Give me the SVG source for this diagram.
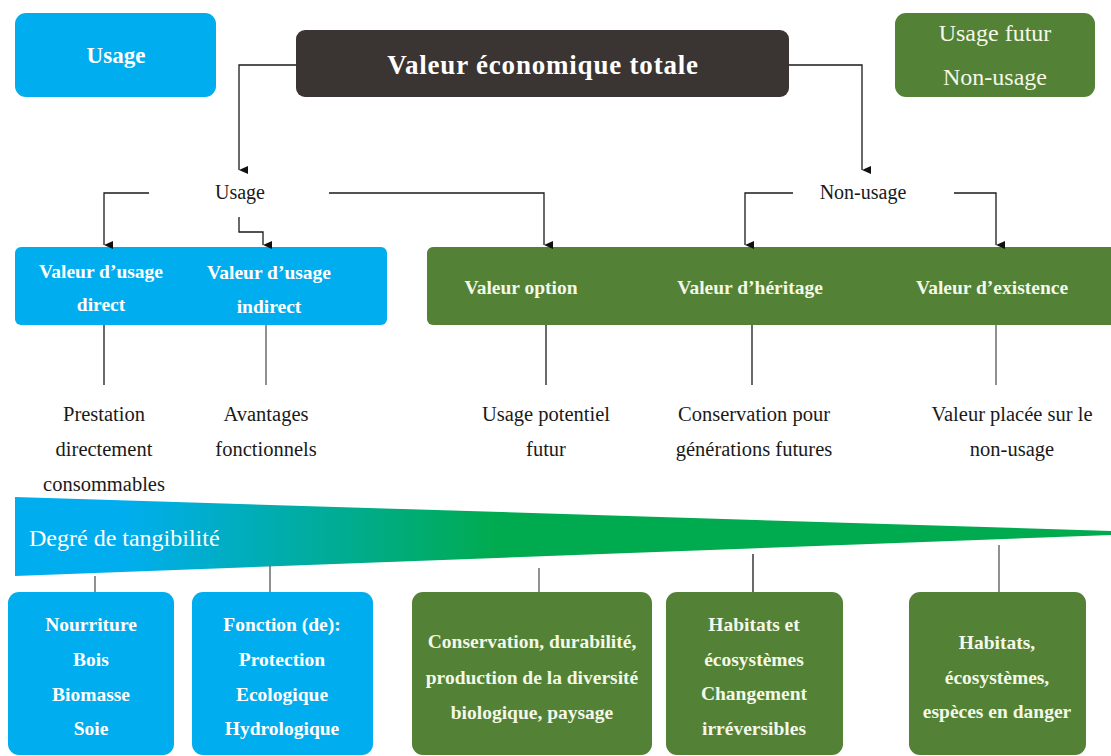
<svg xmlns="http://www.w3.org/2000/svg" width="1111" height="756" viewBox="0 0 1111 756">
<defs>
<linearGradient id="tang" x1="15" y1="0" x2="1111" y2="0" gradientUnits="userSpaceOnUse">
<stop offset="0.1" stop-color="#00AEEF"/>
<stop offset="0.44" stop-color="#00AB4F"/>
<stop offset="1" stop-color="#00AB4F"/>
</linearGradient>
<marker id="arr" viewBox="0 0 8 9" refX="4" refY="9" markerWidth="8" markerHeight="9" markerUnits="userSpaceOnUse" orient="auto-start-reverse">
<path d="M0,0 L8,0 L4,9 Z" fill="#111"/>
</marker>
<style>
.blue{fill:#00ADEF}
.green{fill:#538135}
.dark{fill:#3A3432}
text{font-family:"Liberation Serif","Times New Roman","DejaVu Serif",serif}
.wt{fill:#FFFFFF;font-weight:bold;font-size:19.5px;text-anchor:middle}
.wg{fill:#F3F8E8;font-weight:bold;font-size:19.5px;text-anchor:middle}
.bt{fill:#1a1a1a;font-size:20.5px;text-anchor:middle}
.ln{fill:none;stroke:#1a1a1a;stroke-width:1.3}
.gl{fill:none;stroke:#555;stroke-width:1.3}
</style>
</defs>
<rect width="1111" height="756" fill="#FFFFFF"/>

<g id="legend-usage">
<rect class="blue" x="15" y="13" width="201" height="84" rx="11"/>
<text class="wt" x="116" y="63" style="font-size:23px">Usage</text>
</g>
<g id="vet">
<rect class="dark" x="296" y="30" width="493" height="67" rx="9"/>
<text class="wt" x="543" y="74" style="font-size:27px;letter-spacing:0.8px">Valeur économique totale</text>
</g>
<g id="legend-nonusage">
<rect class="green" x="895" y="13" width="200" height="84" rx="11"/>
<text class="wg" x="995" y="41" style="font-size:24px;font-weight:normal">Usage futur</text>
<text class="wg" x="995" y="85" style="font-size:24px;font-weight:normal">Non-usage</text>
</g>

<g id="label-usage"><text class="bt" x="240" y="199" style="font-size:20px">Usage</text></g>
<g id="label-nonusage"><text class="bt" x="863" y="199" style="font-size:20px">Non-usage</text></g>

<g id="usage-box">
<rect class="blue" x="15" y="247" width="372" height="78" rx="6"/>
<text class="wt" x="101" y="278">Valeur d’usage</text>
<text class="wt" x="101" y="311">direct</text>
<text class="wt" x="269" y="279">Valeur d’usage</text>
<text class="wt" x="269" y="313">indirect</text>
</g>
<g id="nonusage-box">
<rect class="green" x="427" y="247" width="700" height="78" rx="6"/>
<text class="wg" x="521" y="294">Valeur option</text>
<text class="wg" x="750" y="294">Valeur d’héritage</text>
<text class="wg" x="992" y="294">Valeur d’existence</text>
</g>

<g id="descriptions">
<text class="bt" x="104" y="421">Prestation</text>
<text class="bt" x="104" y="456">directement</text>
<text class="bt" x="104" y="491">consommables</text>
<text class="bt" x="266" y="421">Avantages</text>
<text class="bt" x="266" y="456">fonctionnels</text>
<text class="bt" x="546" y="421">Usage potentiel</text>
<text class="bt" x="546" y="456">futur</text>
<text class="bt" x="754" y="421">Conservation pour</text>
<text class="bt" x="754" y="456">générations futures</text>
<text class="bt" x="1012" y="421">Valeur placée sur le</text>
<text class="bt" x="1012" y="456">non-usage</text>
</g>

<g id="tangibility">
<polygon points="15,497 1111,531 1111,535 15,576" fill="url(#tang)"/>
<text x="29" y="546" fill="#FFFFFF" style="font-size:24px">Degré de tangibilité</text>
</g>

<g id="ex-direct">
<rect class="blue" x="8" y="592" width="166" height="163" rx="11"/>
<text class="wt" x="91" y="631">Nourriture</text>
<text class="wt" x="91" y="666">Bois</text>
<text class="wt" x="91" y="701">Biomasse</text>
<text class="wt" x="91" y="735">Soie</text>
</g>
<g id="ex-indirect">
<rect class="blue" x="192" y="592" width="181" height="163" rx="11"/>
<text class="wt" x="282" y="631">Fonction (de):</text>
<text class="wt" x="282" y="666">Protection</text>
<text class="wt" x="282" y="701">Ecologique</text>
<text class="wt" x="282" y="735">Hydrologique</text>
</g>
<g id="ex-option">
<rect class="green" x="412" y="592" width="240" height="163" rx="11"/>
<text class="wg" x="532" y="648">Conservation, durabilité,</text>
<text class="wg" x="532" y="684">production de la diversité</text>
<text class="wg" x="532" y="719">biologique, paysage</text>
</g>
<g id="ex-heritage">
<rect class="green" x="666" y="592" width="177" height="163" rx="11"/>
<text class="wg" x="754" y="631">Habitats et</text>
<text class="wg" x="754" y="666">écosystèmes</text>
<text class="wg" x="754" y="700">Changement</text>
<text class="wg" x="754" y="735">irréversibles</text>
</g>
<g id="ex-existence">
<rect class="green" x="909" y="592" width="177" height="163" rx="11"/>
<text class="wg" x="997" y="649">Habitats,</text>
<text class="wg" x="997" y="684">écosystèmes,</text>
<text class="wg" x="997" y="718">espèces en danger</text>
</g>

<g id="connectors">
<path class="ln" d="M296,65 H239 V170" marker-end="url(#arr)"/>
<path class="ln" d="M789,65 H862 V170" marker-end="url(#arr)"/>
<path class="ln" d="M149,193 H104 V245" marker-end="url(#arr)"/>
<path class="ln" d="M239,217 V232 H263 V245" marker-end="url(#arr)"/>
<path class="ln" d="M329,193 H544 V245" marker-end="url(#arr)"/>
<path class="ln" d="M793,193 H745 V245" marker-end="url(#arr)"/>
<path class="ln" d="M954,193 H996 V245" marker-end="url(#arr)"/>
<path class="ln" d="M104,325 V385"/>
<path class="gl" d="M266,325 V385"/>
<path class="ln" d="M546,325 V385"/>
<path class="ln" d="M752,325 V385"/>
<path class="gl" d="M996,325 V385"/>
<path class="gl" d="M95,576 V592"/>
<path class="gl" d="M270,566 V592"/>
<path class="gl" d="M539,568 V592"/>
<path class="ln" d="M753,554 V592"/>
<path class="gl" d="M999,545 V592"/>
</g>
</svg>
